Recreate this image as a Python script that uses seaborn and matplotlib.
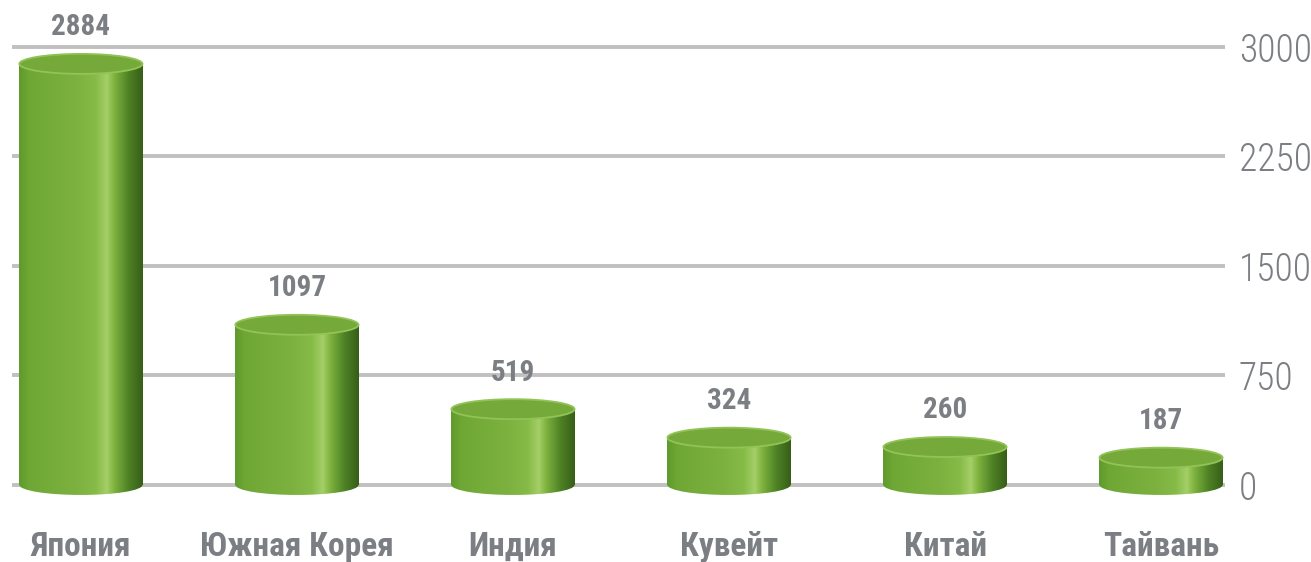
import matplotlib

matplotlib.use("Agg")
import matplotlib.pyplot as plt
import numpy as np
import seaborn as sns
from matplotlib import font_manager as fm
from matplotlib.colors import LinearSegmentedColormap
from matplotlib.patches import Ellipse

countries = ["Япония", "Южная Корея", "Индия", "Кувейт", "Китай", "Тайвань"]
values = [2884, 1097, 519, 324, 260, 187]
y_ticks = [0, 750, 1500, 2250, 3000]

GREY = "#7b7e83"
GRID = "#c0c0c0"

sns.set_theme(style="white")

# pick a narrow face if one is around
fonts = [(f.name, f.stretch) for f in fm.fontManager.ttflist]
names = {f[0] for f in fonts}
narrow = None
for cand in ["Roboto Condensed", "Liberation Sans Narrow", "Open Sans Condensed"]:
    if cand in names:
        narrow = cand
        break
stretch = "normal"
if narrow is None:
    narrow = "DejaVu Sans"
    if any(n == "DejaVu Sans" and s == "condensed" for n, s in fonts):
        stretch = "condensed"
plt.rcParams["font.family"] = [narrow, "DejaVu Sans"]
plt.rcParams["font.stretch"] = stretch

# cylinder shading, left -> right
cyl = LinearSegmentedColormap.from_list(
    "cyl",
    [(0.0, "#5f9a2c"), (0.08, "#6fa735"), (0.45, "#7cb13f"),
     (0.62, "#86bb48"), (0.71, "#a5cf68"), (0.77, "#7fb23e"),
     (0.88, "#4f8426"), (1.0, "#375e17")],
)
grad = np.linspace(0, 1, 256).reshape(1, -1)

fig = plt.figure(figsize=(13.11, 5.62), dpi=100)
ax = fig.add_axes([12 / 1311, 42 / 562, 1213 / 1311, 510 / 562])

sns.barplot(x=countries, y=values, width=0.57, color="#72a838",
            ax=ax, zorder=2)

ylim = (-240, 3253)
px_per_unit = 510 / (ylim[1] - ylim[0])
cap_h = 20 / px_per_unit  # ellipse height in data units

for patch, val in zip(ax.patches, values):
    x0, w = patch.get_x(), patch.get_width()
    cx = x0 + w / 2
    patch.set_facecolor("none")
    patch.set_edgecolor("none")

    # body
    im = ax.imshow(grad, cmap=cyl, aspect="auto", zorder=2,
                   extent=(x0, x0 + w, -cap_h / 2, val))
    im.set_clip_path(patch)

    # rounded bottom
    bottom = Ellipse((cx, 0), w, cap_h, transform=ax.transData,
                     fc="none", ec="none")
    ax.add_patch(bottom)
    im2 = ax.imshow(grad, cmap=cyl, aspect="auto", zorder=2,
                    extent=(x0, x0 + w, -cap_h / 2, cap_h / 2))
    im2.set_clip_path(bottom)

    # top cap
    ax.add_patch(Ellipse((cx, val), w, cap_h, fc="#75a93a",
                         ec="#92c356", lw=1.3, zorder=3))

    ax.annotate(f"{val}", (cx, val + cap_h / 2), xytext=(0, 9),
                textcoords="offset points", ha="center", va="bottom",
                fontsize=21, fontweight="bold", color=GREY)

ax.set_xlim(-0.319, 5.296)
ax.set_ylim(*ylim)
ax.set_yticks(y_ticks)
ax.set_yticklabels([str(t) for t in y_ticks], fontweight="light")
ax.yaxis.tick_right()
ax.grid(axis="y", color=GRID, lw=2.8)
ax.grid(axis="x", visible=False)
ax.set_axisbelow(True)
sns.despine(ax=ax, left=True, bottom=True)
ax.spines["right"].set_visible(False)
ax.set_xlabel("")
ax.set_ylabel("")

ax.tick_params(axis="y", length=0, pad=10, labelsize=27, labelcolor=GREY)
ax.tick_params(axis="x", length=0, pad=8, labelsize=24, labelcolor=GREY)
for lbl in ax.get_xticklabels():
    lbl.set_fontweight("bold")

fig.savefig("out.png", dpi=100)
